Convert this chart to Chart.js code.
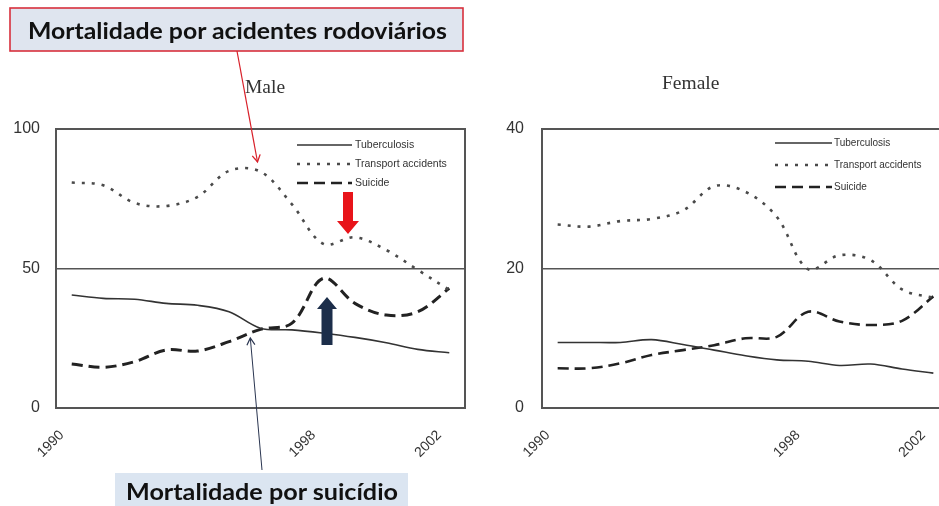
<!DOCTYPE html>
<html>
<head>
<meta charset="utf-8">
<script src="https://cdn.jsdelivr.net/npm/chart.js@4/dist/chart.umd.min.js"></script>
<style>
  html, body { margin:0; padding:0; background:#fff; width:939px; height:506px; overflow:hidden; }
  #wrap { position:relative; width:939px; height:506px; overflow:hidden; }
  canvas { position:absolute; top:0; }
  #cMale { left:0; }
  #cFemale { left:470px; }
  .ttl { position:absolute; font-family:"Liberation Serif", "DejaVu Serif", serif; font-size:19.5px; color:#333; white-space:nowrap; }
  svg { position:absolute; left:0; top:0; }
</style>
</head>
<body>
<div id="wrap">
  <canvas id="cMale" width="470" height="506"></canvas>
  <canvas id="cFemale" width="485" height="506"></canvas>
  <div class="ttl" style="left:245px; top:76px;">Male</div>
  <div class="ttl" style="left:662px; top:72px;">Female</div>
  <svg width="939" height="506" viewBox="0 0 939 506">
    <defs>
      <marker id="hRed" markerWidth="10" markerHeight="10" refX="8" refY="5" orient="auto" markerUnits="userSpaceOnUse">
        <path d="M1,1 L8,5 L1,9" fill="none" stroke="#d8202a" stroke-width="1.3"/>
      </marker>
      <marker id="hNavy" markerWidth="10" markerHeight="10" refX="8" refY="5" orient="auto" markerUnits="userSpaceOnUse">
        <path d="M1,1 L8,5 L1,9" fill="none" stroke="#2a3550" stroke-width="1.2"/>
      </marker>
    </defs>
    <!-- top annotation -->
    <rect x="10" y="8" width="453" height="43" fill="#dfe5ef" stroke="#d8303c" stroke-width="1.6"/>
    <text x="28" y="39" font-family="Lato, 'Open Sans', sans-serif" font-weight="bold" font-size="22" fill="#111" textLength="419" lengthAdjust="spacingAndGlyphs">Mortalidade por acidentes rodoviários</text>
    <line x1="237" y1="51" x2="257.5" y2="162" stroke="#d8202a" stroke-width="1.2" marker-end="url(#hRed)"/>
    <!-- red block arrow -->
    <polygon points="343,192 353,192 353,221 359,221 348,234 337,221 343,221" fill="#e8141a"/>
    <!-- navy block arrow -->
    <polygon points="327,297 337,309 332.5,309 332.5,345 321.5,345 321.5,309 317,309" fill="#1c2e4a"/>
    <!-- bottom annotation -->
    <rect x="115" y="473" width="293" height="40" fill="#dbe5f1"/>
    <text x="126" y="500" font-family="Lato, 'Open Sans', sans-serif" font-weight="bold" font-size="22" fill="#111" textLength="272" lengthAdjust="spacingAndGlyphs">Mortalidade por suicídio</text>
    <line x1="262" y1="470" x2="250.3" y2="338" stroke="#2a3550" stroke-width="1" marker-end="url(#hNavy)"/>
  </svg>
</div>
<script>
// ---------- data ----------
const years = ['1990','1991','1992','1993','1994','1995','1996','1997','1998','1999','2000','2001','2002'];
const shownYears = ['1990','1998','2002'];
const seriesNames = ['Tuberculosis','Transport accidents','Suicide'];

const maleTuberculosis = [40.5, 39.3, 39.0, 37.5, 36.8, 34.5, 28.6, 28.0, 26.8, 25.3, 23.4, 21.0, 19.8];
const maleTransport    = [80.8, 79.8, 73.5, 72.4, 75.7, 85.0, 84.7, 73.0, 58.8, 61.2, 56.6, 49.5, 42.3];
const maleSuicide      = [15.8, 14.6, 16.6, 20.8, 20.4, 23.8, 28.2, 30.4, 46.5, 37.5, 33.3, 34.5, 42.9];
const maleYTicks = [0, 50, 100];

const femaleTuberculosis = [9.4, 9.4, 9.4, 9.8, 9.1, 8.3, 7.5, 6.9, 6.7, 6.1, 6.3, 5.6, 5.0];
const femaleTransport    = [26.3, 26.0, 26.8, 27.1, 28.3, 31.8, 31.0, 27.4, 19.9, 21.9, 21.2, 17.0, 15.8];
const femaleSuicide      = [5.7, 5.7, 6.4, 7.6, 8.3, 9.0, 10.0, 10.2, 13.8, 12.4, 11.9, 12.5, 16.0];
const femaleYTicks = [0, 20, 40];

// ---------- plugins ----------
const framePlugin = {
  id: 'frame',
  beforeDatasetsDraw(chart, args, opts) {
    const {ctx, chartArea: a} = chart;
    ctx.save();
    ctx.strokeStyle = '#555';
    ctx.lineWidth = 2;
    ctx.strokeRect(a.left, a.top, a.right - a.left, a.bottom - a.top);
    ctx.restore();
  }
};
const boxLegend = {
  id: 'boxLegend',
  afterDatasetsDraw(chart, args, opts) {
    const {ctx, chartArea: a} = chart;
    ctx.save();
    chart.data.datasets.forEach((ds, i) => {
      const y = a.top + opts.rowY[i];
      ctx.beginPath();
      ctx.setLineDash(ds.borderDash || []);
      ctx.lineWidth = Math.min(ds.borderWidth, 2.4);
      ctx.strokeStyle = ds.borderColor;
      ctx.moveTo(a.right + opts.lineX0, y);
      ctx.lineTo(a.right + opts.lineX1, y);
      ctx.stroke();
      ctx.setLineDash([]);
      ctx.fillStyle = '#333';
      ctx.font = opts.font;
      ctx.textBaseline = 'middle';
      ctx.textAlign = 'left';
      ctx.fillText(ds.label, a.right + opts.textX, y);
    });
    ctx.restore();
  }
};

function makeChart(id, tb, tr, su, yTicks, cfg) {
  const mid = yTicks[1];
  return new Chart(document.getElementById(id), {
    type: 'line',
    data: {
      labels: years,
      datasets: [
        { label: seriesNames[0], data: tb, borderColor: '#333', borderWidth: 1.6, tension: 0.35, pointRadius: 0, fill: false },
        { label: seriesNames[1], data: tr, borderColor: '#4a4a4a', borderWidth: 2.6, borderDash: [3, 7], tension: 0.35, pointRadius: 0, fill: false },
        { label: seriesNames[2], data: su, borderColor: '#222', borderWidth: cfg.suW, borderDash: [11, 6], tension: 0.35, pointRadius: 0, fill: false }
      ]
    },
    options: {
      responsive: false,
      animation: false,
      devicePixelRatio: 1,
      layout: { padding: { top: 129, right: cfg.padR, bottom: 38, left: 0 } },
      plugins: {
        legend: { display: false },
        tooltip: { enabled: false },
        boxLegend: cfg.legend
      },
      scales: {
        x: {
          type: 'category',
          offset: true,
          grid: { display: false, drawTicks: false },
          border: { display: false },
          afterFit: s => { s.height = 60; s.paddingLeft = 0; s.paddingRight = 0; },
          ticks: {
            autoSkip: false,
            minRotation: 45, maxRotation: 45,
            padding: 19,
            labelOffset: -10,
            color: '#333',
            font: { family: '"Liberation Sans", Arial, sans-serif', size: 14 },
            callback: function(v) { const l = this.getLabelForValue(v); return shownYears.includes(l) ? l : ''; }
          }
        },
        y: {
          min: yTicks[0], max: yTicks[yTicks.length - 1],
          afterBuildTicks: s => { s.ticks = yTicks.map(v => ({ value: v })); },
          afterFit: s => { s.width = cfg.yW; s.paddingTop = 0; s.paddingBottom = 0; },
          grid: {
            drawTicks: false,
            lineWidth: 1.5,
            color: c => (c.tick && c.tick.value === mid) ? '#555' : 'rgba(0,0,0,0)'
          },
          border: { display: false },
          ticks: {
            padding: cfg.yPad,
            color: '#333',
            font: { family: '"Liberation Sans", Arial, sans-serif', size: 16 }
          }
        }
      }
    },
    plugins: [framePlugin, boxLegend]
  });
}

makeChart('cMale', maleTuberculosis, maleTransport, maleSuicide, maleYTicks, {
  yW: 56, padR: 5, yPad: 16, suW: 3,
  legend: { rowY: [16, 35, 54], lineX0: -168, lineX1: -113, textX: -110, font: '10.5px "Liberation Sans", Arial, sans-serif' }
});
makeChart('cFemale', femaleTuberculosis, femaleTransport, femaleSuicide, femaleYTicks, {
  yW: 72, padR: 6, yPad: 18, suW: 2.6,
  legend: { rowY: [14, 36, 58], lineX0: -174, lineX1: -117, textX: -115, font: '10px "Liberation Sans", Arial, sans-serif' }
});
</script>
</body>
</html>
